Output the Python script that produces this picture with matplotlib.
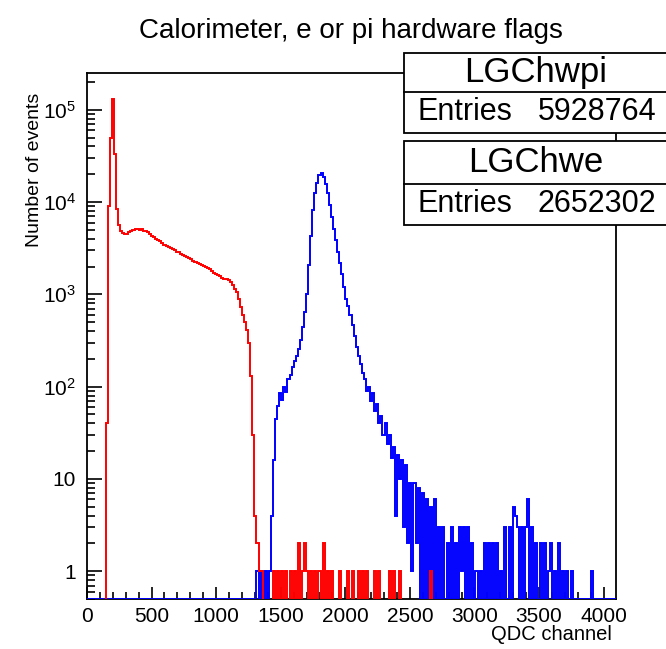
import numpy as np
import matplotlib
matplotlib.use("Agg")
import matplotlib.pyplot as plt
from matplotlib.patches import Rectangle
from matplotlib.lines import Line2D
from matplotlib.ticker import FixedLocator, FuncFormatter, LogLocator, MultipleLocator

plt.rcParams['font.family'] = ['Liberation Sans', 'DejaVu Sans']
plt.rcParams['mathtext.default'] = 'regular'

bin_width = 16
n_bins = 256

# LGChwpi (red), starting at bin 9 (channel 144)
pi_first_bin = 9
pi_counts = [
    40, 9000, 49000, 130000, 33000, 8500, 5600, 4800, 4600, 4500, 4550,
    4750, 4900, 5000, 5100, 5050, 5000, 5100, 4900, 4850, 4700,
    4500, 4300, 4200, 4000, 3850, 3750, 3600, 3450, 3350, 3250,
    3150, 3100, 3000, 2900, 2850, 2750, 2700, 2600, 2550, 2450,
    2400, 2300, 2250, 2200, 2150, 2100, 2050, 1980, 1950, 1880,
    1800, 1720, 1680, 1620, 1580, 1520, 1480, 1450, 1420, 1350,
    1250, 1150, 1050, 900, 730, 600, 500, 415, 300, 130,
    30, 4, 2, 1,
    # sparse tail, bins 84..166
    1, 0, 0, 0, 0, 0, 1, 0, 1, 0, 1, 0, 1, 0, 1, 0,
    1, 0, 2, 0, 1, 2, 1, 0, 1, 0, 1, 0, 1, 0, 2, 0,
    1, 0, 1, 0, 0, 0, 1, 0, 0, 0, 1, 0, 1, 0, 0, 1,
    0, 1, 0, 1, 0, 0, 0, 1, 0, 1, 0, 0, 0, 0, 1, 0,
    1, 0, 0, 1, 0, 0, 0, 0, 0, 0, 0, 0, 0, 0, 0, 0,
    0, 0, 1,
]

# LGChwe (blue), starting at bin 82 (channel 1312)
e_first_bin = 82
e_counts = [
    1, 0, 1, 0, 1, 0, 1, 4,
    16, 45, 62, 85, 72, 100, 88, 120, 135, 165,
    190, 215, 255, 320, 440, 640, 1000, 2100, 4300, 8200,
    12500, 16000, 19500, 20500, 18500, 15500, 12500, 9300, 6900, 5100,
    3900, 2900, 2200, 1650, 1200, 900, 740, 600, 460, 350,
    270, 215, 175, 140, 120, 90, 100, 70, 85, 55,
    65, 40, 48, 30, 40, 24, 30, 17, 22, 4,
    18, 10, 16, 3, 14, 2, 9, 1, 9, 2,
    8, 0, 7, 0, 6, 0, 5, 0, 6, 0,
    3, 0, 3, 0, 2, 0, 3, 0, 2, 0,
    3, 1, 3, 0, 3, 0, 2, 0, 1, 0,
    1, 0, 2, 0, 2, 0, 2, 0, 2, 0,
    1, 0, 3, 0, 3, 0, 5, 4, 3, 0,
    3, 0, 3, 6, 0, 3, 0, 2, 0, 2,
    0, 2, 0, 1, 2, 0, 1, 0, 2, 0,
    1, 0, 1, 0, 1, 0, 0, 0, 0, 0,
    0, 0, 0, 0, 1,
]

hist_names = ['LGChwpi', 'LGChwe']
hist_entries = [5928764, 2652302]

edges = np.arange(n_bins + 1) * bin_width


def fill_bins(first, counts):
    h = np.zeros(n_bins)
    h[first:first + len(counts)] = counts
    return h


pi_h = fill_bins(pi_first_bin, pi_counts)
e_h = fill_bins(e_first_bin, e_counts)

W, H = 666, 649
fig = plt.figure(figsize=(W / 100, H / 100), dpi=100)


def fx(px):
    return px / W


def fy(py):
    return 1 - py / H


ax = fig.add_axes([fx(87), fy(599), fx(616) - fx(87), fy(73) - fy(599)])
ymin, ymax = 0.5, 2.5e5
ax.set_yscale('log')
ax.set_xlim(0, 4096)
ax.set_ylim(ymin, ymax)

# blue first, empty bins sit on the frame bottom like in ROOT
ax.stairs(np.where(e_h > 0, e_h, ymin), edges, baseline=None, color='#0000ff', lw=1.4, zorder=3)
ax.stairs(np.where(pi_h > 0, pi_h, 0.1), edges, baseline=None, color='#ff0000', lw=1.4, zorder=3.1)

# axes in ROOT style
for s in ['top', 'right', 'left', 'bottom']:
    ax.spines[s].set_linewidth(1.3)
ax.xaxis.set_major_locator(MultipleLocator(500))
ax.xaxis.set_minor_locator(MultipleLocator(100))
ax.yaxis.set_major_locator(FixedLocator([1, 10, 100, 1e3, 1e4, 1e5]))
ax.yaxis.set_minor_locator(LogLocator(base=10, subs=np.arange(2, 10)))


def ylab(v, pos):
    if v == 1:
        return '1'
    if v == 10:
        return '10'
    return '$10^{%d}$' % round(np.log10(v))


ax.yaxis.set_major_formatter(FuncFormatter(ylab))
ax.yaxis.set_minor_formatter(FuncFormatter(lambda v, p: ''))
ax.tick_params(axis='both', which='both', direction='in', top=False, right=False, labelsize=15)
ax.tick_params(axis='x', which='major', length=9, width=1.2, pad=6)
ax.tick_params(axis='x', which='minor', length=5, width=1.2)
ax.tick_params(axis='y', which='major', length=11, width=1.2, pad=8)
ax.tick_params(axis='y', which='minor', length=6, width=1.2)

ax.set_xlabel('QDC channel', fontsize=14.5, loc='right')
ax.xaxis.set_label_coords(0.992, -0.05)
ax.set_ylabel('Number of events', fontsize=14, loc='top')
ax.yaxis.set_label_coords(-0.083, 0.962)

fig.text(fx(351), fy(31), 'Calorimeter, e or pi hardware flags', fontsize=20,
         ha='center', va='center')

# stats boxes
boxes = [(52.7, 92.3, 132.7), (140.7, 184, 225)]
for (top, mid, bot), name, entries in zip(boxes, hist_names, hist_entries):
    fig.add_artist(Rectangle((fx(404), fy(bot)), fx(672) - fx(404), fy(top) - fy(bot),
                             transform=fig.transFigure, facecolor='white',
                             edgecolor='black', lw=1.3, zorder=5))
    fig.add_artist(Line2D([fx(404), fx(672)], [fy(mid), fy(mid)], transform=fig.transFigure,
                          color='black', lw=1.3, zorder=6))
    fig.text(fx(536), fy((top + mid) / 2), name, fontsize=25, ha='center', va='center', zorder=7)
    fig.text(fx(418), fy((mid + bot) / 2), 'Entries', fontsize=22, ha='left', va='center', zorder=7)
    fig.text(fx(656), fy((mid + bot) / 2), str(entries), fontsize=22, ha='right', va='center', zorder=7)

fig.savefig('out.png', dpi=100)
